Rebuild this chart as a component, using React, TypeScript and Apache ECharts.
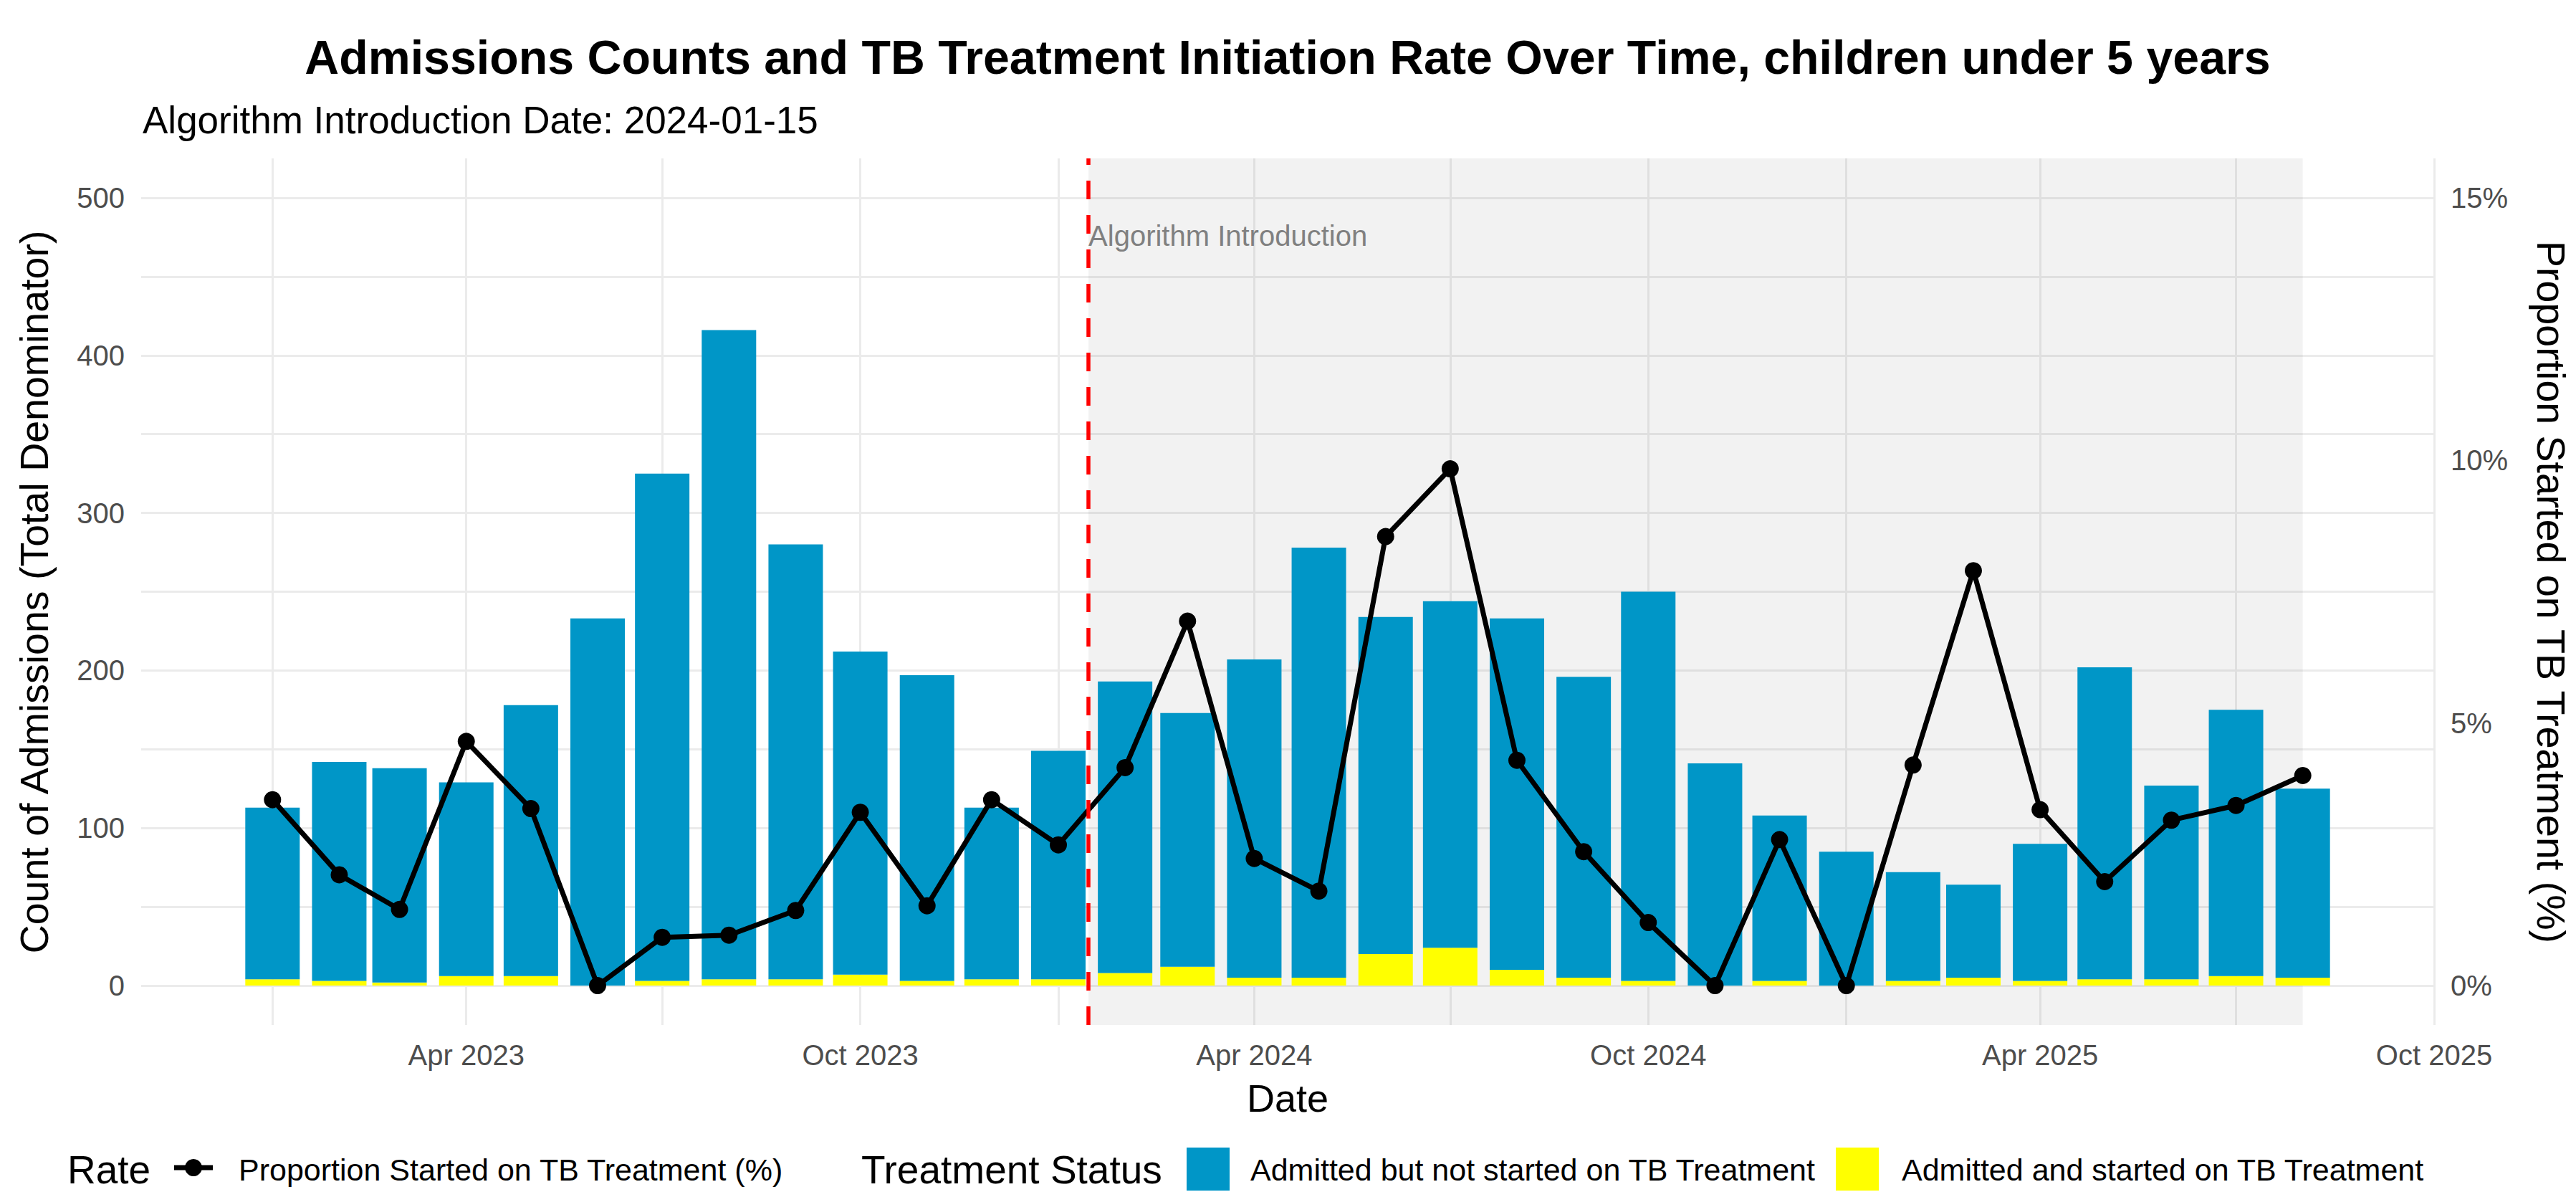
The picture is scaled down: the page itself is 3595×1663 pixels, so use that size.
import React, { useEffect, useRef } from "react";
import * as echarts from "echarts";

// ---------------- data ----------------
const months = [
  "2023-01-01", "2023-02-01", "2023-03-01", "2023-04-01", "2023-05-01", "2023-06-01",
  "2023-07-01", "2023-08-01", "2023-09-01", "2023-10-01", "2023-11-01", "2023-12-01",
  "2024-01-01", "2024-02-01", "2024-03-01", "2024-04-01", "2024-05-01", "2024-06-01",
  "2024-07-01", "2024-08-01", "2024-09-01", "2024-10-01", "2024-11-01", "2024-12-01",
  "2025-01-01", "2025-02-01", "2025-03-01", "2025-04-01", "2025-05-01", "2025-06-01",
  "2025-07-01", "2025-08-01",
];
// Admitted and started on TB treatment (yellow)
const startedCounts = [
  4, 3, 2, 6, 6, 0, 3, 4, 4, 7, 3, 4,
  4, 8, 12, 5, 5, 20, 24, 10, 5, 3, 0, 3,
  0, 3, 5, 3, 4, 4, 6, 5,
];
// Admitted but not started on TB treatment (blue)
const notStartedCounts = [
  109, 139, 136, 123, 172, 233, 322, 412, 276, 205, 194, 109,
  145, 185, 161, 202, 273, 214, 220, 223, 191, 247, 141, 105,
  85, 69, 59, 87, 198, 123, 169, 120,
];
// Proportion started on TB treatment (%)
const ratePct = [
  3.54, 2.11, 1.45, 4.65, 3.37, 0, 0.92, 0.96, 1.43, 3.3, 1.52, 3.54,
  2.68, 4.15, 6.94, 2.42, 1.8, 8.55, 9.84, 4.29, 2.55, 1.2, 0, 2.78,
  0, 4.2, 7.9, 3.35, 1.98, 3.15, 3.43, 4.0,
];
const leftTickValues = [0, 100, 200, 300, 400, 500];
const leftGridValues = [0, 50, 100, 150, 200, 250, 300, 350, 400, 450, 500];
const rightTickValues = [0, 5, 10, 15];
const dateLabelTicks = ["2023-04-01", "2023-10-01", "2024-04-01", "2024-10-01", "2025-04-01", "2025-10-01"];
const dateGridTicks = [
  "2023-01-01", "2023-04-01", "2023-07-01", "2023-10-01",
  "2024-01-01", "2024-04-01", "2024-07-01", "2024-10-01",
  "2025-01-01", "2025-04-01", "2025-07-01", "2025-10-01",
];
const introDate = "2024-01-15";
const xMinDate = "2022-11-01";
const xMaxDate = "2025-10-01";
// annotation level on the rate axis (%)
const introLabelLevelPct = 14.28;

const TITLE = "Admissions Counts and TB Treatment Initiation Rate Over Time, children under 5 years";
const SUBTITLE = "Algorithm Introduction Date: 2024-01-15";
const Y_TITLE = "Count of Admissions (Total Denominator)";
const Y2_TITLE = "Proportion Started on TB Treatment (%)";
const X_TITLE = "Date";
const S_NOT = "Admitted but not started on TB Treatment";
const S_YES = "Admitted and started on TB Treatment";
const S_RATE = "Proportion Started on TB Treatment (%)";

const FONT = "'Liberation Sans', Arial, Helvetica, sans-serif";
const BLUE = "#0096C7";
const YELLOW = "#FFFF00";
const MON = ["Jan", "Feb", "Mar", "Apr", "May", "Jun", "Jul", "Aug", "Sep", "Oct", "Nov", "Dec"];
const DAY = 86400000;

function t(s: string): number {
  const [y, m, d] = s.split("-").map(Number);
  return Date.UTC(y, m - 1, d);
}

export default function App() {
  const ref = useRef<HTMLDivElement>(null);

  useEffect(() => {
    document.body.style.margin = "0";
    if (!ref.current) return;
    const chart = echarts.init(ref.current, null, { renderer: "svg" });

    const times = months.map(t);
    const xMin = t(xMinDate) - 0.01 * DAY;
    const xMax = t(xMaxDate) + 0.01 * DAY;
    const txt = (extra: any) => ({ fontFamily: FONT, fill: "#000", ...extra });

    const option: any = {
      animation: false,
      backgroundColor: "#FFFFFF",
      textStyle: { fontFamily: FONT },
      grid: { left: 197, right: 198, top: 221, bottom: 233, containLabel: false, outerBoundsMode: "none" },
      xAxis: {
        type: "value",
        min: xMin,
        max: xMax,
        axisLine: { show: false },
        axisTick: { show: false, customValues: dateGridTicks.map(t) },
        axisLabel: {
          customValues: dateLabelTicks.map(t),
          formatter: (v: number) => {
            const d = new Date(v);
            return MON[d.getUTCMonth()] + " " + d.getUTCFullYear();
          },
          fontSize: 40,
          color: "#4D4D4D",
          fontFamily: FONT,
          margin: 22,
        },
        splitLine: { show: true, lineStyle: { color: "#EBEBEB", width: 3 } },
      },
      yAxis: [
        {
          type: "value",
          min: -25,
          max: 525,
          axisLine: { show: false },
          axisTick: { show: false, customValues: leftGridValues },
          axisLabel: { customValues: leftTickValues, fontSize: 40, color: "#4D4D4D", fontFamily: FONT, margin: 23 },
          splitLine: { show: true, lineStyle: { color: "#EBEBEB", width: 3 } },
        },
        {
          type: "value",
          position: "right",
          min: -0.75,
          max: 15.75,
          axisLine: { show: false },
          axisTick: { show: false, customValues: rightTickValues },
          axisLabel: {
            customValues: rightTickValues,
            formatter: (v: number) => Math.round(v) + "%",
            fontSize: 40,
            color: "#4D4D4D",
            fontFamily: FONT,
            margin: 23,
          },
          splitLine: { show: false },
        },
      ],
      series: [
        {
          // data rows are [count, date] so that stacking acts on the count dimension
          name: S_YES,
          type: "bar",
          stack: "adm",
          yAxisIndex: 0,
          barWidth: 76,
          encode: { x: 1, y: 0 },
          itemStyle: { color: YELLOW },
          data: times.map((x, i) => [startedCounts[i], x]),
        },
        {
          name: S_NOT,
          type: "bar",
          stack: "adm",
          yAxisIndex: 0,
          barWidth: 76,
          encode: { x: 1, y: 0 },
          itemStyle: { color: BLUE },
          data: times.map((x, i) => [notStartedCounts[i], x]),
        },
        {
          name: S_RATE,
          type: "line",
          yAxisIndex: 1,
          z: 3,
          symbol: "circle",
          symbolSize: 24,
          itemStyle: { color: "#000000" },
          lineStyle: { color: "#000000", width: 7 },
          data: times.map((x, i) => [x, ratePct[i]]),
          markArea: {
            silent: true,
            z: 1,
            itemStyle: { color: "rgba(0,0,0,0.05)" },
            data: [[{ xAxis: t(introDate) }, { xAxis: times[times.length - 1] }]],
          },
          markLine: {
            silent: true,
            z: 5,
            symbol: ["none", "none"],
            label: { show: false },
            lineStyle: { color: "#FF0000", width: 5.5, type: [26, 22] },
            data: [{ xAxis: t(introDate) }],
          },
          markPoint: {
            silent: true,
            z: 6,
            symbol: "circle",
            symbolSize: 0,
            data: [
              {
                coord: [t(introDate), introLabelLevelPct],
                label: {
                  show: true,
                  position: "right",
                  distance: 0,
                  formatter: "Algorithm Introduction",
                  color: "#808080",
                  fontSize: 40,
                  fontFamily: FONT,
                },
              },
            ],
          },
        },
      ],
      graphic: [
        { type: "text", x: 1797, y: 80, style: txt({ text: TITLE, fontSize: 66.3, fontWeight: "bold", align: "center", verticalAlign: "middle" }) },
        { type: "text", x: 199, y: 167, style: txt({ text: SUBTITLE, fontSize: 53, align: "left", verticalAlign: "middle" }) },
        { type: "text", x: 48, y: 826, rotation: Math.PI / 2, style: txt({ text: Y_TITLE, fontSize: 55.5, align: "center", verticalAlign: "middle" }) },
        { type: "text", x: 3560, y: 826, rotation: -Math.PI / 2, style: txt({ text: Y2_TITLE, fontSize: 55.5, align: "center", verticalAlign: "middle" }) },
        { type: "text", x: 1797, y: 1532, style: txt({ text: X_TITLE, fontSize: 54, align: "center", verticalAlign: "middle" }) },
        // legend
        { type: "text", x: 94, y: 1632, style: txt({ text: "Rate", fontSize: 55, align: "left", verticalAlign: "middle" }) },
        { type: "line", shape: { x1: 243, y1: 1629, x2: 297, y2: 1629 }, style: { stroke: "#000", lineWidth: 7 } },
        { type: "circle", shape: { cx: 270, cy: 1629, r: 12 }, style: { fill: "#000" } },
        { type: "text", x: 333, y: 1632, style: txt({ text: S_RATE, fontSize: 43, align: "left", verticalAlign: "middle" }) },
        { type: "text", x: 1202, y: 1632, style: txt({ text: "Treatment Status", fontSize: 55, align: "left", verticalAlign: "middle" }) },
        { type: "rect", shape: { x: 1656, y: 1601, width: 60, height: 60 }, style: { fill: BLUE } },
        { type: "text", x: 1745, y: 1632, style: txt({ text: S_NOT, fontSize: 43, align: "left", verticalAlign: "middle" }) },
        { type: "rect", shape: { x: 2562, y: 1601, width: 60, height: 60 }, style: { fill: YELLOW } },
        { type: "text", x: 2654, y: 1632, style: txt({ text: S_YES, fontSize: 43, align: "left", verticalAlign: "middle" }) },
      ],
    };

    chart.setOption(option);
    return () => chart.dispose();
  }, []);

  return (
    <div
      ref={ref}
      style={{ position: "fixed", left: 0, top: 0, width: 3595, height: 1663, background: "#fff" }}
    />
  );
}
